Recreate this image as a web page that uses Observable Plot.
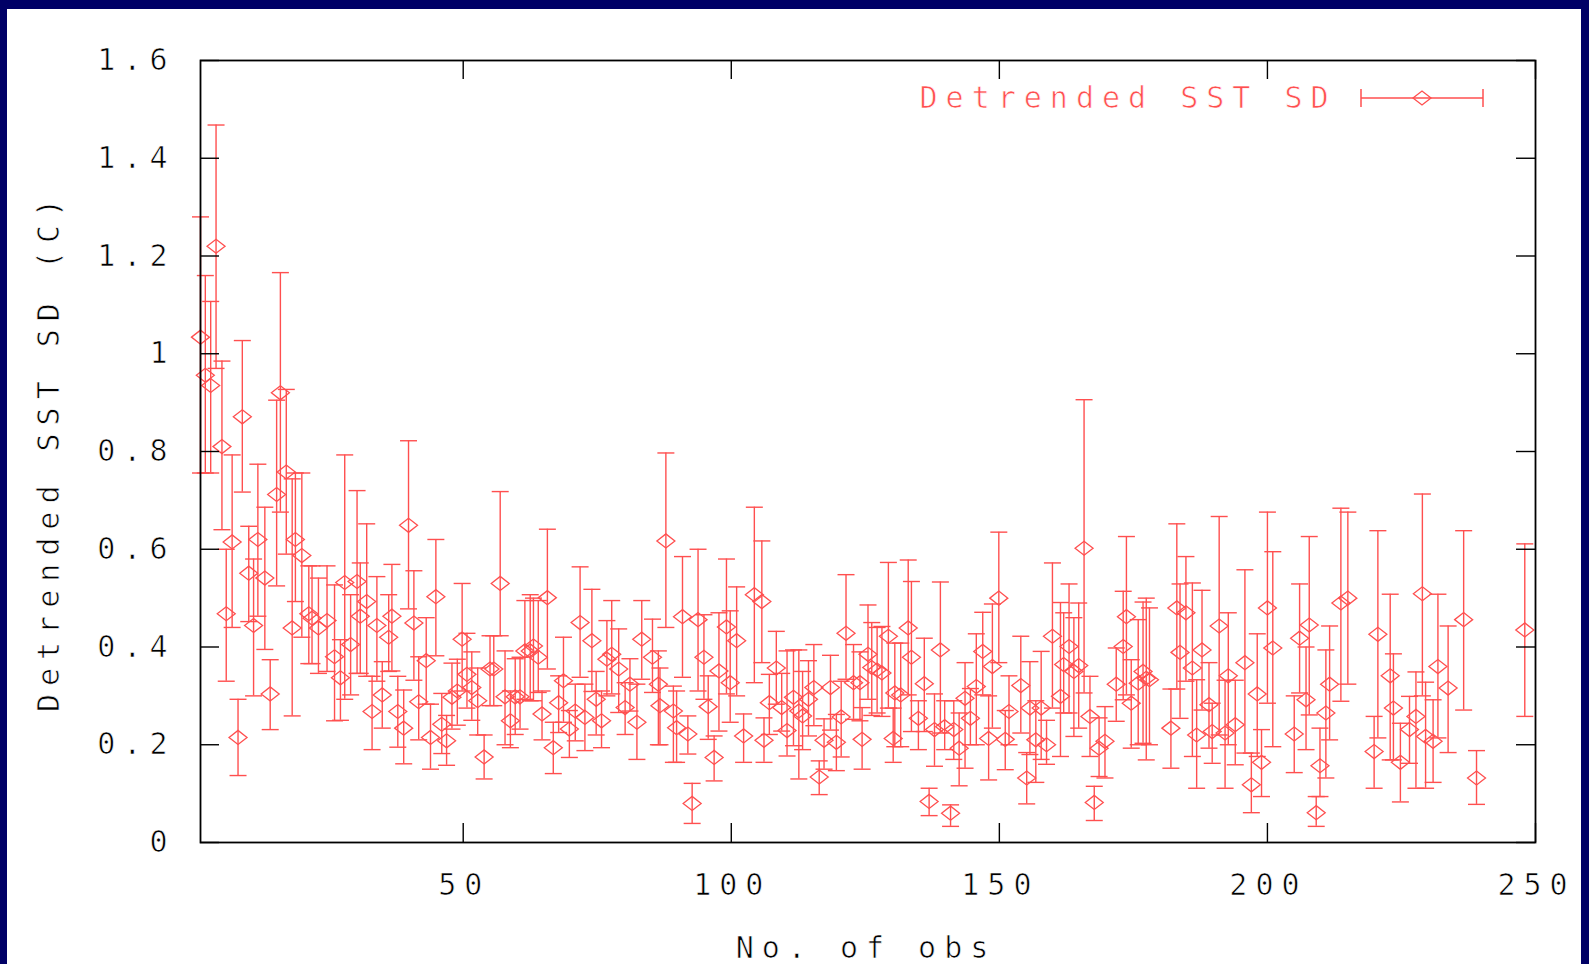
<!DOCTYPE html>
<html>
<head>
<meta charset="utf-8">
<script src="https://cdn.jsdelivr.net/npm/d3@7"></script>
<script src="https://cdn.jsdelivr.net/npm/@observablehq/plot@0.6"></script>
<style>
  html, body { margin: 0; padding: 0; width: 1589px; height: 964px; overflow: hidden; background: #000066; }
  #panel { position: absolute; left: 7px; top: 9px; width: 1574px; height: 955px; background: #ffffff; }
  #chart { position: absolute; left: 0; top: 0; }
  #chart svg text { letter-spacing: 8px; stroke: #ffffff; stroke-width: 0.7px; paint-order: normal; }
  #legsym { position: absolute; left: 1355px; top: 85px; }
</style>
</head>
<body>
<div id="panel"></div>
<div id="chart"></div>
<svg id="legsym" width="135" height="30"></svg>
<script>
// ---- data (No. of obs, SD, lower, upper) ----
const obs = [1.0,1.9,2.9,3.9,5.0,5.8,6.9,8.0,8.8,10.0,10.9,11.7,13.0,14.0,15.2,15.9,17.0,18.1,18.7,19.9,21.2,21.8,23.0,24.6,26.0,27.1,27.9,29.0,30.2,30.8,32.0,33.0,33.9,34.9,36.1,36.7,37.8,38.9,39.8,40.8,41.7,
43.1,43.9,44.9,46.0,46.9,47.9,48.9,49.8,50.7,51.6,52.7,53.9,55.0,55.7,56.9,57.8,58.8,59.7,60.6,61.5,62.5,63.1,64.0,64.7,65.7,66.8,67.8,68.7,69.8,70.9,71.8,72.7,74.0,74.8,75.8,76.8,77.7,79.0,80.2,81.1,82.4,83.3,
85.3,86.4,86.7,87.8,89.2,89.8,90.9,91.9,92.7,93.8,94.9,95.7,96.8,97.7,99.1,99.8,101.0,102.3,104.3,105.7,106.1,107.1,108.4,109.4,110.4,111.6,112.6,113.3,114.4,115.4,116.4,117.3,118.5,119.6,120.5,121.4,122.8,124.0,124.4,125.5,126.2,
127.2,128.1,129.3,130.2,130.5,131.6,133.0,133.6,134.9,136.0,136.9,137.9,139.0,139.8,140.9,141.5,142.5,143.6,144.6,145.7,146.9,148.0,148.7,149.9,151.1,151.8,154.0,155.1,155.7,156.8,157.8,158.8,159.9,161.4,162.0,163.0,163.9,164.8,165.8,166.9,167.7,168.6,169.7,
171.8,173.1,173.7,174.6,175.9,176.8,177.4,178.0,182.0,183.1,183.7,184.8,186.0,186.8,187.8,189.1,189.7,191.0,192.1,192.7,194.0,195.8,197.0,198.1,198.9,200.0,201.0,205.0,206.0,207.2,207.8,209.1,209.8,
210.9,211.6,213.7,215.0,219.9,220.6,222.9,223.5,224.8,226.5,227.7,228.9,229.5,230.9,231.8,233.7,236.6,239.0,248.0];

const sd = [1.034,0.956,0.935,1.22,0.81,0.468,0.615,0.215,0.871,0.551,0.444,0.62,0.541,0.304,0.712,0.92,0.758,0.439,0.62,0.587,0.468,0.459,0.439,0.454,0.38,0.337,0.532,0.405,0.534,0.463,0.493,0.268,0.444,0.302,0.42,0.463,0.268,0.234,0.649,0.449,0.288,
0.372,0.215,0.503,0.242,0.208,0.297,0.31,0.416,0.344,0.317,0.29,0.175,0.355,0.355,0.53,0.298,0.249,0.298,0.298,0.392,0.392,0.402,0.379,0.263,0.501,0.194,0.286,0.331,0.232,0.269,0.45,0.256,0.413,0.293,0.249,0.375,0.385,0.355,0.276,0.324,0.246,0.416,
0.379,0.324,0.28,0.617,0.269,0.235,0.462,0.222,0.08,0.456,0.379,0.278,0.174,0.351,0.441,0.327,0.413,0.218,0.507,0.493,0.209,0.286,0.357,0.276,0.229,0.297,0.269,0.259,0.293,0.317,0.134,0.209,0.317,0.205,0.257,0.428,0.327,0.327,0.211,0.385,0.358,
0.353,0.347,0.422,0.213,0.306,0.302,0.439,0.379,0.254,0.325,0.084,0.231,0.394,0.237,0.06,0.231,0.193,0.295,0.254,0.319,0.391,0.213,0.36,0.5,0.211,0.268,0.321,0.132,0.275,0.21,0.275,0.2,0.422,0.299,0.364,0.401,0.35,0.362,0.602,0.258,0.082,0.193,0.207,
0.324,0.401,0.462,0.285,0.326,0.35,0.336,0.333,0.234,0.48,0.389,0.47,0.357,0.22,0.394,0.282,0.227,0.443,0.224,0.341,0.241,0.368,0.118,0.304,0.164,0.48,0.398,0.222,0.418,0.292,0.445,0.061,0.157,
0.265,0.324,0.49,0.5,0.186,0.426,0.341,0.275,0.164,0.231,0.258,0.509,0.217,0.207,0.36,0.316,0.456,0.132,0.435];

const lower = [0.756,0.756,0.756,0.97,0.64,0.33,0.44,0.137,0.717,0.452,0.30,0.463,0.395,0.231,0.525,0.676,0.59,0.259,0.493,0.42,0.366,0.366,0.346,0.35,0.249,0.25,0.293,0.302,0.346,0.346,0.34,0.19,0.33,0.234,0.35,0.351,0.195,0.161,0.478,0.332,0.21,
0.283,0.15,0.382,0.182,0.158,0.232,0.24,0.31,0.275,0.25,0.22,0.13,0.28,0.28,0.423,0.2,0.194,0.221,0.232,0.293,0.29,0.29,0.307,0.21,0.355,0.141,0.225,0.246,0.174,0.208,0.338,0.188,0.309,0.22,0.194,0.30,0.304,0.266,0.221,0.269,0.17,0.334,
0.307,0.2,0.2,0.44,0.164,0.164,0.338,0.181,0.039,0.31,0.293,0.211,0.126,0.228,0.304,0.246,0.3,0.164,0.327,0.368,0.164,0.221,0.283,0.228,0.177,0.198,0.13,0.19,0.218,0.239,0.098,0.15,0.23,0.147,0.175,0.334,0.252,0.249,0.15,0.293,0.26,
0.265,0.258,0.275,0.164,0.196,0.196,0.302,0.227,0.19,0.227,0.055,0.156,0.224,0.19,0.033,0.17,0.116,0.152,0.2,0.2,0.302,0.128,0.234,0.368,0.149,0.2,0.224,0.079,0.18,0.123,0.17,0.16,0.275,0.176,0.265,0.265,0.217,0.234,0.306,0.176,0.045,0.135,0.132,
0.248,0.292,0.302,0.193,0.2,0.203,0.169,0.2,0.152,0.314,0.254,0.33,0.176,0.111,0.271,0.193,0.162,0.22,0.111,0.2,0.159,0.183,0.061,0.176,0.094,0.285,0.196,0.143,0.306,0.19,0.261,0.033,0.094,
0.132,0.21,0.289,0.324,0.111,0.214,0.169,0.169,0.083,0.162,0.111,0.30,0.111,0.123,0.214,0.184,0.271,0.078,0.258];

const upper = [1.28,1.16,1.107,1.468,0.985,0.60,0.793,0.293,1.027,0.647,0.58,0.774,0.686,0.374,0.905,1.166,0.927,0.744,0.756,0.756,0.566,0.566,0.541,0.566,0.527,0.415,0.793,0.507,0.72,0.572,0.652,0.34,0.544,0.37,0.507,0.569,0.34,0.312,0.822,0.556,0.38,
0.46,0.283,0.62,0.305,0.26,0.367,0.375,0.53,0.428,0.39,0.357,0.22,0.423,0.423,0.718,0.392,0.31,0.376,0.379,0.495,0.507,0.50,0.495,0.31,0.641,0.246,0.341,0.42,0.27,0.324,0.564,0.324,0.518,0.35,0.31,0.454,0.495,0.437,0.327,0.376,0.324,0.495,
0.457,0.392,0.357,0.797,0.32,0.31,0.585,0.259,0.121,0.6,0.466,0.341,0.218,0.47,0.58,0.474,0.523,0.263,0.686,0.617,0.255,0.344,0.432,0.346,0.392,0.394,0.394,0.35,0.372,0.405,0.167,0.253,0.383,0.262,0.33,0.548,0.405,0.39,0.276,0.486,0.45,
0.44,0.442,0.573,0.275,0.408,0.408,0.578,0.534,0.29,0.418,0.111,0.304,0.533,0.29,0.077,0.29,0.265,0.368,0.315,0.427,0.471,0.30,0.488,0.635,0.27,0.341,0.422,0.184,0.37,0.29,0.391,0.25,0.572,0.491,0.47,0.529,0.46,0.49,0.906,0.34,0.115,0.255,0.278,
0.398,0.514,0.626,0.374,0.456,0.492,0.5,0.48,0.314,0.652,0.529,0.585,0.531,0.333,0.516,0.368,0.285,0.667,0.332,0.47,0.332,0.558,0.183,0.427,0.231,0.676,0.595,0.30,0.529,0.40,0.626,0.094,0.234,
0.394,0.443,0.684,0.676,0.258,0.638,0.508,0.386,0.244,0.299,0.349,0.713,0.328,0.292,0.508,0.443,0.638,0.188,0.611];

const xTicks = [50, 100, 150, 200, 250];
const yTicks = [0, 0.2, 0.4, 0.6, 0.8, 1.0, 1.2, 1.4, 1.6];
const xTitle = "No. of obs";
const yTitle = "Detrended SST SD (C)";
const seriesName = "Detrended SST SD";

const RED = "#ff4f4f";
const data = obs.map((x, i) => ({x, y: sd[i], lo: lower[i], hi: upper[i]}));

const innerW = 1589 - 200 - 54;
const innerH = 964 - 60 - 122;
const tickLen = 19;

const diamondSym = {draw(ctx, size) { const r = Math.sqrt(size / Math.PI); const h = r * 0.78; ctx.moveTo(-r, 0); ctx.lineTo(0, -h); ctx.lineTo(r, 0); ctx.lineTo(0, h); ctx.closePath(); }};
const capSym = {draw(ctx, size) { const r = Math.sqrt(size / Math.PI); ctx.moveTo(-r, 0); ctx.lineTo(r, 0); }};

const fmt = d => String(+d.toFixed(1));

const chart = Plot.plot({
  width: 1589,
  height: 964,
  marginLeft: 200,
  marginRight: 54,
  marginTop: 60,
  marginBottom: 122,
  style: {background: "transparent", fontFamily: "'DejaVu Sans Mono', monospace", fontSize: "30px", color: "#000", overflow: "visible"},
  x: {domain: [1, 250]},
  y: {domain: [0, 1.6]},
  marks: [
    Plot.ruleX(data, {x: "x", y1: "lo", y2: "hi", stroke: RED, strokeWidth: 1.4}),
    Plot.dot(data, {x: "x", y: "lo", symbol: capSym, r: 8.5, stroke: RED, fill: "none", strokeWidth: 1.4}),
    Plot.dot(data, {x: "x", y: "hi", symbol: capSym, r: 8.5, stroke: RED, fill: "none", strokeWidth: 1.4}),
    Plot.dot(data, {x: "x", y: "y", symbol: diamondSym, r: 9, stroke: RED, fill: "none", strokeWidth: 1.3}),
    Plot.ruleX(xTicks, {insetTop: innerH - tickLen, stroke: "#000", strokeWidth: 1.4}),
    Plot.ruleX(xTicks, {insetBottom: innerH - tickLen, stroke: "#000", strokeWidth: 1.4}),
    Plot.ruleY(yTicks, {insetRight: innerW - tickLen, stroke: "#000", strokeWidth: 1.4}),
    Plot.ruleY(yTicks, {insetLeft: innerW - tickLen, stroke: "#000", strokeWidth: 1.4}),
    Plot.frame({stroke: "#000", strokeWidth: 1.8}),
    Plot.axisX(xTicks, {tickSize: 0, tickPadding: 31, fontSize: 30, label: null, dx: 1}),
    Plot.axisY(yTicks, {tickSize: 0, tickPadding: 25, fontSize: 30, label: null, tickFormat: fmt}),
    Plot.text([yTitle], {text: d => d, frameAnchor: "left", dx: -151, rotate: -90, textAnchor: "middle", lineAnchor: "middle", fontSize: 30, fill: "#000"}),
    Plot.text([xTitle], {text: d => d, frameAnchor: "bottom", dx: -2, dy: 106, textAnchor: "middle", lineAnchor: "middle", fontSize: 30, fill: "#000"}),
    Plot.text([seriesName], {text: d => d, frameAnchor: "top-right", dx: 1336 - 1535, dy: 38, textAnchor: "end", lineAnchor: "middle", fontSize: 30, fill: RED})
  ]
});
document.getElementById("chart").appendChild(chart);

// legend sample (error bar with diamond)
const ls = d3.select("#legsym");
ls.append("line").attr("x1", 6).attr("x2", 128).attr("y1", 13).attr("y2", 13).attr("stroke", RED).attr("stroke-width", 1.5);
ls.append("line").attr("x1", 6).attr("x2", 6).attr("y1", 4).attr("y2", 22).attr("stroke", RED).attr("stroke-width", 1.5);
ls.append("line").attr("x1", 128).attr("x2", 128).attr("y1", 4).attr("y2", 22).attr("stroke", RED).attr("stroke-width", 1.5);
ls.append("path").attr("d", "M58,13L67,6L76,13L67,20Z").attr("fill", "none").attr("stroke", RED).attr("stroke-width", 1.3);
</script>
</body>
</html>
